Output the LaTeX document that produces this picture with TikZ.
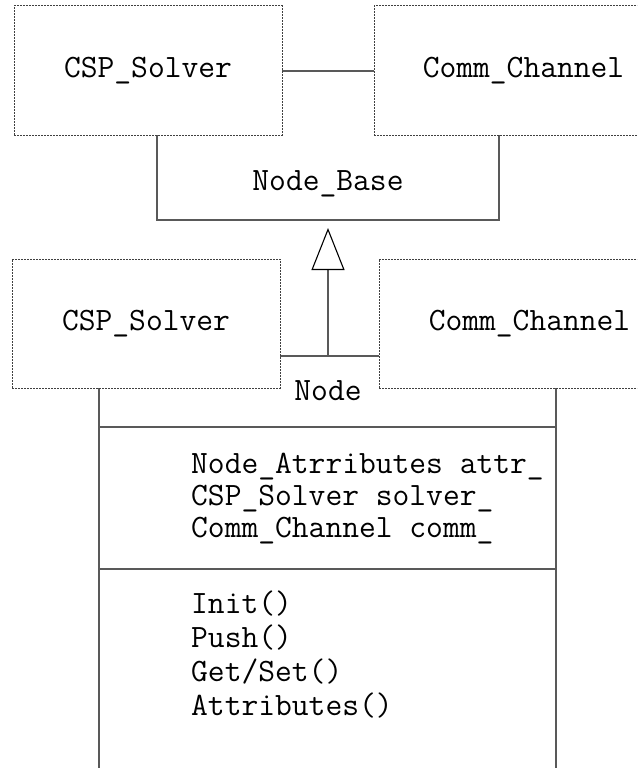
\documentclass[tikz,border=0pt]{standalone}
\usetikzlibrary{arrows.meta}
\tikzset{
  dotbox/.style={draw=black!75, dash pattern=on 2pt off 1pt, line width=1pt, fill=white, inner sep=0pt, minimum height=129pt},
  solidbox/.style={draw=black!65, line width=1.3pt, inner sep=0pt},
  txt/.style={inner sep=0pt, font=\ttfamily\fontsize{32.6}{36}\selectfont},
  line/.style={draw=black!65, line width=1.3pt}
}
\begin{document}
\begin{tikzpicture}[x=1pt,y=-1pt]
\useasboundingbox (0,0) rectangle (637,768);
\clip (0,0) rectangle (637,768);
\fill[white] (0,0) rectangle (637,768);
% Node_Base class box
\node[solidbox, minimum width=342pt, minimum height=149pt] (nbbox) at (328,145.5) {};
\node[txt, anchor=base] (nb) at (328,190) {Node\_Base};
% Node class box
\node[solidbox, minimum width=457pt, minimum height=460pt] (ndbox) at (327.5,586) {};
\coordinate (h1l) at (99,427); \coordinate (h1r) at (556,427);
\coordinate (h2l) at (99,569); \coordinate (h2r) at (556,569);
\draw[line] (h1l) -- (h1r);
\draw[line] (h2l) -- (h2r);
% top dotted boxes
\node[dotbox, txt, minimum width=268pt, minimum height=129pt] (cs1) at (148,70.5) {CSP\_Solver};
\node[dotbox, txt, minimum width=299pt, minimum height=129pt] (cc1) at (523.5,70.5) {Comm\_Channel};
% lower dotted boxes
\node[dotbox, txt, minimum width=268pt, minimum height=129pt] (cs2) at (146,323.5) {CSP\_Solver};
\node[dotbox, txt, minimum width=301pt, minimum height=129pt] (cc2) at (529.5,323.5) {Comm\_Channel};
\node[txt, anchor=base] (nd) at (328,400) {Node};
% inheritance arrow
\coordinate (arrs) at (328,356);
\coordinate (arre) at (328,228);
\draw[line, -{Triangle[open, width=33pt, length=42pt, line width=1.1pt, color=black]}] (arrs) -- (arre);
% attributes
\node[txt, anchor=base west] (a1) at (191,473) {Node\_Atrributes attr\_};
\node[txt, anchor=base west] (a2) at (191,505) {CSP\_Solver solver\_};
\node[txt, anchor=base west] (a3) at (191,537) {Comm\_Channel comm\_};
% methods
\node[txt, anchor=base west] (m1) at (191,613) {Init()};
\node[txt, anchor=base west] (m2) at (191,647) {Push()};
\node[txt, anchor=base west] (m3) at (191,681) {Get/Set()};
\node[txt, anchor=base west] (m4) at (191,715) {Attributes()};
\end{tikzpicture}
\end{document}
